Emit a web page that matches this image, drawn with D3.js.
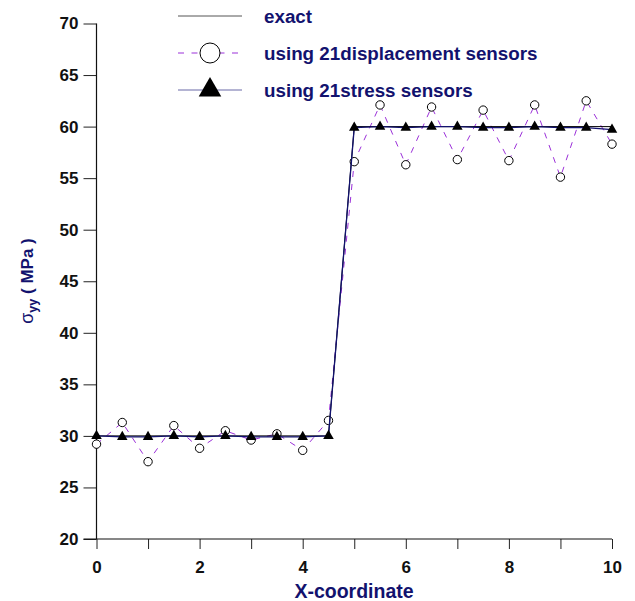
<!DOCTYPE html>
<html>
<head>
<meta charset="utf-8">
<script src="https://cdn.jsdelivr.net/npm/d3@7"></script>
<style>
  body { margin: 0; background: #fff; }
  svg { display: block; font-family: "Liberation Sans", Arial, sans-serif; }
  .navy { fill: #12126e; font-weight: bold; }
</style>
</head>
<body>
<svg id="chart" width="635" height="601"></svg>
<script>
// sensor positions along the bar
var xs = [0, 0.5, 1, 1.5, 2, 2.5, 3, 3.5, 4, 4.5, 5, 5.5, 6, 6.5, 7, 7.5, 8, 8.5, 9, 9.5, 10];
var exact = [30, 30, 30, 30, 30, 30, 30, 30, 30, 30, 60, 60, 60, 60, 60, 60, 60, 60, 60, 60, 60];
var dispSensors = [29.2, 31.3, 27.5, 31.0, 28.8, 30.5, 29.6, 30.2, 28.6, 31.5,
                   56.6, 62.1, 56.3, 61.9, 56.8, 61.6, 56.7, 62.1, 55.1, 62.5, 58.3];
var stressSensors = [30, 29.9, 29.9, 30, 29.9, 30, 29.9, 29.9, 29.9, 30,
                     59.9, 60, 59.9, 60, 60, 59.9, 59.9, 60, 59.9, 59.9, 59.7];
var xTicks = [0, 2, 4, 6, 8, 10];
var xMinor = [1, 3, 5, 7, 9];
var yTicks = [20, 25, 30, 35, 40, 45, 50, 55, 60, 65, 70];
var legendNames = ["exact", "using 21displacement sensors", "using 21stress sensors"];

var navy = "#12126e";
var purple = "#9b30d9";

var svg = d3.select("#chart");
var plotL = 96.5, plotR = 612, plotT = 23.5, plotB = 539;

var x = d3.scaleLinear().domain([0, 10]).range([plotL, plotR]);
var y = d3.scaleLinear().domain([20, 70]).range([plotB, plotT]);

// axes
var gx = svg.append("g")
    .attr("transform", "translate(0," + plotB + ")")
    .call(d3.axisBottom(x).tickValues(xTicks).tickSize(10).tickPadding(12).tickFormat(d3.format("d")));
gx.select(".domain").remove();

svg.append("g")
    .attr("transform", "translate(0," + plotB + ")")
    .call(d3.axisBottom(x).tickValues(xMinor).tickSize(10).tickFormat(""))
  .call(function(g) { g.select(".domain").remove(); });

var gy = svg.append("g")
    .attr("transform", "translate(" + plotL + ",0)")
    .call(d3.axisLeft(y).tickValues(yTicks).tickSize(13).tickPadding(5));
gy.select(".domain").remove();

svg.selectAll(".tick line").attr("stroke", "#222");
svg.selectAll(".tick text")
    .attr("fill", "#111")
    .style("font-size", "17px")
    .style("font-weight", "bold")
    .style("font-family", "Liberation Sans, Arial, sans-serif");

svg.append("line")
    .attr("x1", plotL).attr("x2", plotL).attr("y1", plotT).attr("y2", plotB)
    .attr("stroke", "#111").attr("stroke-width", 1.2);
svg.append("line")
    .attr("x1", plotL - 13).attr("x2", plotR).attr("y1", plotB).attr("y2", plotB)
    .attr("stroke", "#111").attr("stroke-width", 1.2);

// axis titles
svg.append("text")
    .attr("class", "navy")
    .attr("x", 354).attr("y", 598)
    .attr("text-anchor", "middle")
    .style("font-size", "19.5px")
    .text("X-coordinate");

var yl = svg.append("text")
    .attr("class", "navy")
    .attr("transform", "translate(33,281)rotate(-90)")
    .attr("text-anchor", "middle")
    .style("font-size", "17px");
yl.append("tspan").style("font-weight", "normal").style("font-size", "18px").text("σ");
yl.append("tspan").attr("dy", 4).style("font-size", "12.5px").text("yy");
yl.append("tspan").attr("dy", -4).text(" ( MPa )");

// series
var pts = function(vals) { return xs.map(function(d, i) { return [d, vals[i]]; }); };
var line = d3.line().x(function(d) { return x(d[0]); }).y(function(d) { return y(d[1]); });

svg.append("path").datum(pts(dispSensors))
    .attr("d", line).attr("fill", "none")
    .attr("stroke", purple).attr("stroke-width", 1).attr("stroke-dasharray", "6,7");

svg.append("g").selectAll("circle")
    .data(pts(dispSensors)).join("circle")
    .attr("cx", function(d) { return x(d[0]); })
    .attr("cy", function(d) { return y(d[1]); })
    .attr("r", 4.2)
    .attr("fill", "#fff").attr("stroke", "#000").attr("stroke-width", 1);

svg.append("path").datum(pts(exact))
    .attr("d", line).attr("fill", "none")
    .attr("stroke", "#000").attr("stroke-width", 1);

svg.append("path").datum(pts(stressSensors))
    .attr("d", line).attr("fill", "none")
    .attr("stroke", navy).attr("stroke-width", 1.3);

var tri = d3.symbol().type(d3.symbolTriangle).size(48);
svg.append("g").selectAll("path")
    .data(pts(stressSensors)).join("path")
    .attr("d", tri)
    .attr("transform", function(d) { return "translate(" + x(d[0]) + "," + y(d[1]) + ")"; })
    .attr("fill", "#000");

// legend
var ly = [16, 53, 90];
var lg = svg.append("g");
lg.append("line").attr("x1", 178).attr("x2", 242).attr("y1", ly[0]).attr("y2", ly[0])
    .attr("stroke", "#555").attr("stroke-width", 1);
lg.append("line").attr("x1", 178).attr("x2", 242).attr("y1", ly[1]).attr("y2", ly[1])
    .attr("stroke", purple).attr("stroke-width", 1).attr("stroke-dasharray", "6,7.5");
lg.append("circle").attr("cx", 210).attr("cy", ly[1]).attr("r", 10)
    .attr("fill", "#fff").attr("stroke", "#000").attr("stroke-width", 1);
lg.append("line").attr("x1", 178).attr("x2", 242).attr("y1", ly[2]).attr("y2", ly[2])
    .attr("stroke", "#6a6aa8").attr("stroke-width", 1.2);
lg.append("path").attr("d", d3.symbol().type(d3.symbolTriangle).size(220))
    .attr("transform", "translate(210," + ly[2] + ")").attr("fill", "#000");

lg.selectAll("text.leg")
    .data(legendNames).join("text")
    .attr("class", "navy leg")
    .attr("x", 264)
    .attr("y", function(d, i) { return ly[i] + 6.5; })
    .style("font-size", "18.8px")
    .text(function(d) { return d; });
</script>
</body>
</html>
